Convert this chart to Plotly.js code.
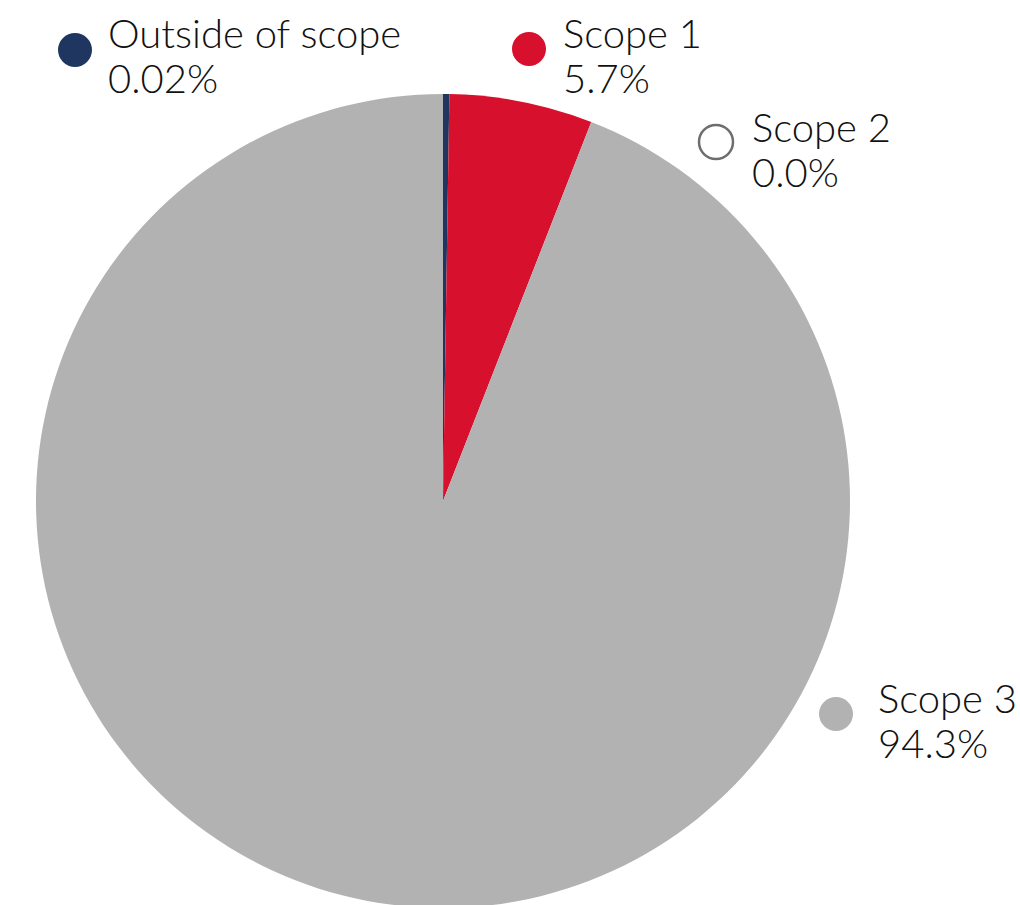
<!DOCTYPE html>
<html>
<head>
<meta charset="utf-8">
<script src="https://cdn.plot.ly/plotly-3.0.1.min.js"></script>
<style>
html,body{margin:0;padding:0;overflow:hidden;background:#fff;}
#chart{width:1020px;height:912px;}
</style>
</head>
<body>
<div id="chart"></div>
<script>
// Data
var categories = ["Outside of scope", "Scope 1", "Scope 2", "Scope 3"];
var values = [0.25, 5.7, 0.0, 94.3];
var percentLabels = ["0.02%", "5.7%", "0.0%", "94.3%"];
var sliceColors = ["#1F3661", "#D6102D", "#FFFFFF", "#B2B2B2"];

var W = 1020, H = 912;
function px(x) { return x / W; }
function py(y) { return 1 - y / H; }

// pie geometry (pixels from top-left)
var cx = 443, cy = 501, r = 407;

var trace = {
  type: "pie",
  labels: categories,
  values: values,
  sort: false,
  direction: "clockwise",
  rotation: 0,
  textinfo: "none",
  hoverinfo: "label+percent",
  marker: { colors: sliceColors, line: { width: 0 } },
  domain: { x: [px(cx - r), px(cx + r)], y: [py(cy + r), py(cy - r)] },
  showlegend: false
};

// legend-like labels: marker centre and text left / first baseline
var legendPos = [
  { mx: 75, my: 50, tx: 106, ty: 47 },
  { mx: 529, my: 49, tx: 561, ty: 47 },
  { mx: 716, my: 142, tx: 750, ty: 141 },
  { mx: 836, my: 714, tx: 876, ty: 712 }
];
var lineGap = 45;
var fontSize = 40;
var fontFam = "Lato, 'Noto Sans', sans-serif";

var shapes = [], annotations = [];
var mr = 17;
categories.forEach(function (c, i) {
  var p = legendPos[i];
  var isWhite = sliceColors[i] === "#FFFFFF";
  shapes.push({
    type: "circle", xref: "paper", yref: "paper",
    x0: px(p.mx - mr), x1: px(p.mx + mr),
    y0: py(p.my + mr), y1: py(p.my - mr),
    fillcolor: sliceColors[i],
    line: { color: isWhite ? "#6E6E6E" : sliceColors[i], width: isWhite ? 2.5 : 0 }
  });
  [c, percentLabels[i]].forEach(function (t, k) {
    annotations.push({
      xref: "paper", yref: "paper",
      x: px(p.tx), y: py(p.ty + k * lineGap - 14),
      xanchor: "left", yanchor: "middle",
      text: t, showarrow: false,
      font: { family: fontFam, size: fontSize, color: "#111111", weight: 300 }
    });
  });
});

var layout = {
  width: W, height: H,
  margin: { l: 0, r: 0, t: 0, b: 0 },
  paper_bgcolor: "#FFFFFF",
  showlegend: false,
  shapes: shapes,
  annotations: annotations
};

Plotly.newPlot("chart", [trace], layout, { displayModeBar: false, staticPlot: true });
</script>
</body>
</html>
